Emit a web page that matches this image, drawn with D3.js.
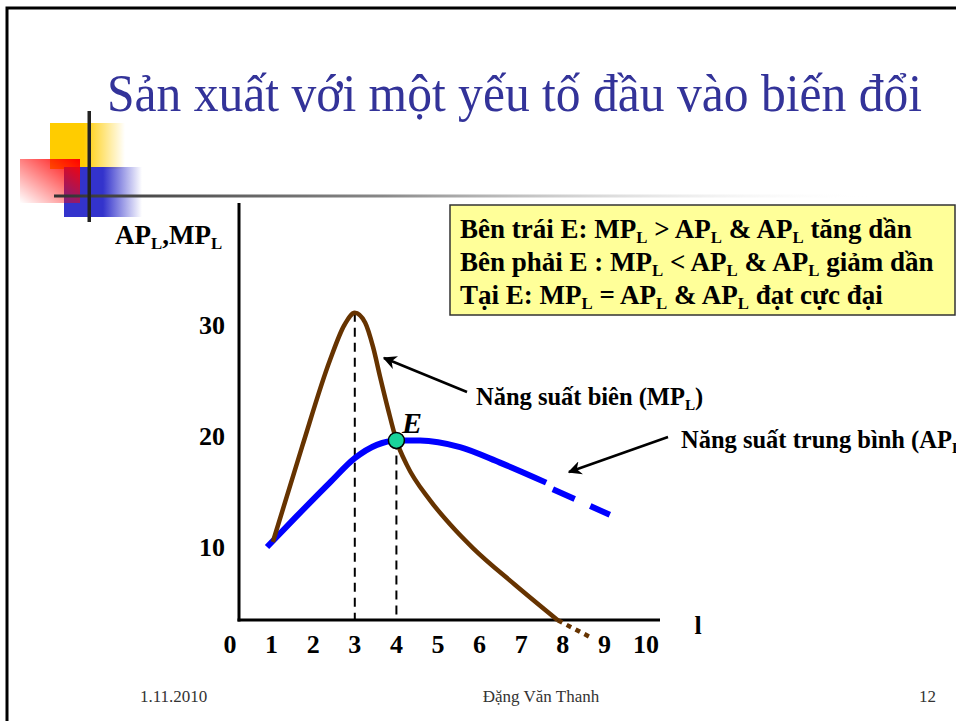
<!DOCTYPE html>
<html><head><meta charset="utf-8">
<script src="https://cdn.jsdelivr.net/npm/d3@7"></script>
<style>body{margin:0;background:#fff}svg{display:block}
text{font-family:"Liberation Serif","Tinos","Times New Roman","DejaVu Serif",serif}</style>
</head><body>
<script>
// ---- data ----
const title = "Sản xuất với một yếu tố đầu vào biến đổi";
const xTicks = [0,1,2,3,4,5,6,7,8,9,10];
const yTicks = [10,20,30];
// Marginal product (MP_L) - solid part
const mpX = [1.03,1.73,2.40,2.75,3.00,3.25,3.44,3.61,3.80,4.00,4.25,4.81,5.30,5.84,6.85,7.88];
const mpY = [10.45,19.0,26.8,30.0,31.1,30.2,28.0,25.3,22.4,19.6,17.4,14.2,12.0,9.9,6.6,3.4];
// MP_L dotted extension
const mpExtX = [7.88,8.65];
const mpExtY = [3.4,1.9];
// Average product (AP_L) - solid part
const apX = [0.89,1.61,2.40,3.00,3.53,4.00,4.57,5.53,6.49,7.60];
const apY = [10.0,12.8,15.8,18.0,19.2,19.6,19.6,19.0,17.6,15.8];
// AP_L dashed extension
const apExtX = [7.76,9.13];
const apExtY = [15.2,12.9];
const E = {x:4, y:19.6};
const boxLines = [
  [["Bên trái E: MP",0],["L",1],[" > AP",0],["L",1],[" & AP",0],["L",1],[" tăng dần",0]],
  [["Bên phải E : MP",0],["L",1],[" < AP",0],["L",1],[" & AP",0],["L",1],[" giảm dần",0]],
  [["Tại E: MP",0],["L",1],[" = AP",0],["L",1],[" & AP",0],["L",1],[" đạt cực đại",0]]
];
const yLabel = [["AP",0],["L",1],[",MP",0],["L",1]];
const mpLabel = [["Năng suất biên (MP",0],["L",1],[")",0]];
const apLabel = [["Năng suất trung bình (AP",0],["L",1],[")",0]];
const footer = ["1.11.2010","Đặng Văn Thanh","12"];

// ---- drawing ----
const W=956,H=721;
const svg=d3.select("body").append("svg").attr("width",W).attr("height",H);
const defs=svg.append("defs");

const x=d3.scaleLinear().domain([0,10]).range([230,646]);
const y=d3.scaleLinear().domain([10,30]).range([547,325]);
const axisY=620, axisX=239;

// slide frame
svg.append("path").attr("d",`M7,721V8H956`).attr("fill","none").attr("stroke","#000").attr("stroke-width",3);

// decoration gradients
function lg(id,stops,x1,y1,x2,y2){
  const g=defs.append("linearGradient").attr("id",id).attr("x1",x1).attr("y1",y1).attr("x2",x2).attr("y2",y2);
  stops.forEach(s=>g.append("stop").attr("offset",s[0]).attr("stop-color",s[1]).attr("stop-opacity",s[2]));
}
lg("gy",[[0,"#FFCC00",1],[0.45,"#FFCC00",1],[1,"#FFCC00",0]],0,0,1,0);
lg("gb",[[0,"#3333CC",1],[0.5,"#3333CC",1],[1,"#3333CC",0]],0,0,1,0);
lg("gr",[[0,"#FF0000",1],[1,"#FF0000",0]],1,0,0,1);
lg("gl",[[0,"#333",1],[0.4,"#888",1],[1,"#fff",0]],0,0,1,0);
svg.append("rect").attr("x",50).attr("y",123).attr("width",75).attr("height",46).attr("fill","url(#gy)");
svg.append("rect").attr("x",64).attr("y",167).attr("width",78).attr("height",50).attr("fill","url(#gb)");
svg.append("rect").attr("x",20).attr("y",159).attr("width",60).attr("height",44).attr("fill","url(#gr)");
svg.append("rect").attr("x",54).attr("y",194.5).attr("width",822).attr("height",3).attr("fill","url(#gl)");
svg.append("rect").attr("x",87.5).attr("y",111).attr("width",3.5).attr("height",111).attr("fill","#222");

// title
svg.append("text").attr("x",107).attr("y",111).attr("font-size",52)
  .attr("fill","#333399").attr("textLength",815).attr("lengthAdjust","spacingAndGlyphs").text(title);

// rich text helper
function rich(parent,segs,xx,yy,size){
  const t=parent.append("text").attr("x",xx).attr("y",yy)
    .attr("font-size",size).attr("font-weight","bold").attr("fill","#000");
  let prevSub=false;
  segs.forEach(s=>{
    const ts=t.append("tspan").text(s[0]);
    if(s[1]) ts.attr("font-size",size*0.62).attr("dy",size*0.2);
    else if(prevSub) ts.attr("dy",-size*0.2);
    prevSub=!!s[1];
  });
  return t;
}

// axes
svg.append("line").attr("x1",axisX).attr("x2",axisX).attr("y1",203).attr("y2",axisY+1.5).attr("stroke","#000").attr("stroke-width",3);
svg.append("line").attr("x1",axisX-1.5).attr("x2",660).attr("y1",axisY).attr("y2",axisY).attr("stroke","#000").attr("stroke-width",3);

const tickG=svg.append("g").attr("font-weight","bold").attr("font-size",26);
tickG.selectAll("text.xt").data(xTicks).join("text").attr("class","xt")
  .attr("x",d=>x(d)).attr("y",653).attr("text-anchor","middle").text(d=>d);
tickG.selectAll("text.yt").data(yTicks).join("text").attr("class","yt")
  .attr("x",225).attr("y",d=>y(d)+9).attr("text-anchor","end").text(d=>d);
tickG.append("text").attr("x",698).attr("y",634).attr("text-anchor","middle").text("l");
rich(svg,yLabel,115,244,27);

// dashed guides
svg.append("line").attr("x1",x(3)).attr("x2",x(3)).attr("y1",y(31.1)).attr("y2",axisY)
  .attr("stroke","#000").attr("stroke-width",2).attr("stroke-dasharray","9,6");
svg.append("line").attr("x1",x(E.x)).attr("x2",x(E.x)).attr("y1",y(E.y)).attr("y2",axisY)
  .attr("stroke","#000").attr("stroke-width",2).attr("stroke-dasharray","9,6");

const line=d3.line().x(d=>x(d[0])).y(d=>y(d[1])).curve(d3.curveMonotoneX);
const straight=d3.line().x(d=>x(d[0])).y(d=>y(d[1]));
const zip=(a,b)=>a.map((v,i)=>[v,b[i]]);

// AP curve
svg.append("path").attr("d",line(zip(apX,apY))).attr("fill","none").attr("stroke","#0000FF").attr("stroke-width",6);
svg.append("path").attr("d",straight(zip(apExtX,apExtY))).attr("fill","none")
  .attr("stroke","#0000FF").attr("stroke-width",6).attr("stroke-dasharray","24,17");
// MP curve
svg.append("path").attr("d",line(zip(mpX,mpY))).attr("fill","none").attr("stroke","#663300").attr("stroke-width",4.5);
svg.append("path").attr("d",straight(zip(mpExtX,mpExtY))).attr("fill","none")
  .attr("stroke","#663300").attr("stroke-width",4.5).attr("stroke-dasharray","5,5");

// E point
svg.append("circle").attr("cx",x(E.x)).attr("cy",y(E.y)).attr("r",8).attr("fill","#19D39A").attr("stroke","#000").attr("stroke-width",1.5);
svg.append("text").attr("x",402).attr("y",433).attr("font-size",30)
  .attr("font-weight","bold").attr("font-style","italic").text("E");

// arrows
const mk=defs.append("marker").attr("id","ah").attr("viewBox","0 0 10 10").attr("refX",9).attr("refY",5)
  .attr("markerWidth",5.5).attr("markerHeight",5.5).attr("orient","auto");
mk.append("path").attr("d","M0,0L10,5L0,10L3,5Z").attr("fill","#000");
svg.append("line").attr("x1",467).attr("y1",392).attr("x2",384).attr("y2",358).attr("stroke","#000").attr("stroke-width",2.5).attr("marker-end","url(#ah)");
svg.append("line").attr("x1",668).attr("y1",437).attr("x2",569).attr("y2",472).attr("stroke","#000").attr("stroke-width",2.5).attr("marker-end","url(#ah)");

// annotation labels
rich(svg,mpLabel,476,405,24.5);
rich(svg,apLabel,681,448,24.5);

// info box
svg.append("rect").attr("x",450).attr("y",205).attr("width",505).attr("height",110)
  .attr("fill","#FFFF99").attr("stroke","#333").attr("stroke-width",1.5);
boxLines.forEach((l,i)=>rich(svg,l,460,238+i*33,27));

// footer
const fg=svg.append("g").attr("font-size",17).attr("fill","#333");
fg.append("text").attr("x",140).attr("y",702).text(footer[0]);
fg.append("text").attr("x",541).attr("y",702).attr("text-anchor","middle").text(footer[1]);
fg.append("text").attr("x",936).attr("y",702).attr("text-anchor","end").text(footer[2]);
</script>
</body></html>
